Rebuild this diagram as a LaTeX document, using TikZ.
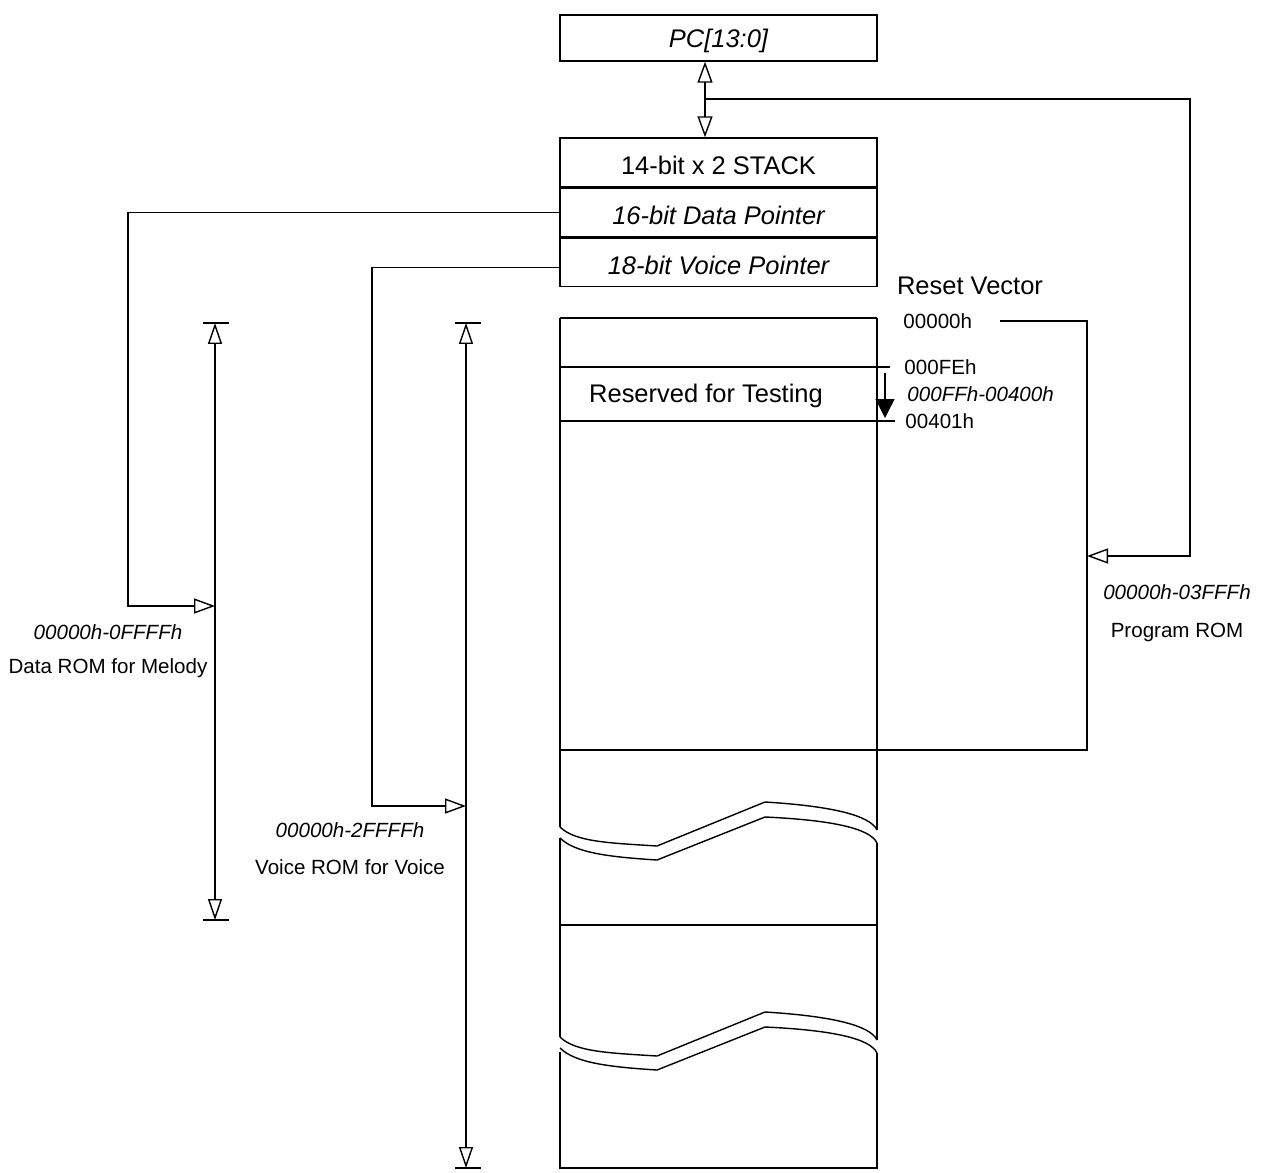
\documentclass[tikz,border=0pt]{standalone}
\usepackage{fontspec}
\setmainfont{Liberation Sans}
\usetikzlibrary{arrows.meta,positioning}

\newcommand{\bigtxt}{\fontsize{14.5}{17}\selectfont}
\newcommand{\smalltxt}{\fontsize{11.7}{14}\selectfont}

\begin{document}
\begin{tikzpicture}[x=0.02cm, y=-0.02cm, line width=0.8pt,
    regbox/.style={draw, minimum width=6.34cm, minimum height=0.973cm, inner sep=0pt, text height=0.5cm, text depth=0pt, font=\bigtxt},
    lbl/.style={font=\smalltxt, inner sep=1pt},
    openhead/.style={-{Triangle[open, length=0.42cm, width=0.3cm]}},
    dimline/.style={{Triangle[open, length=0.42cm, width=0.28cm]}-{Triangle[open, length=0.42cm, width=0.28cm]}}]
    \useasboundingbox (0,0) rectangle (1263,1172);

    % registers
    \node[regbox, minimum height=0.92cm, text height=0.37cm, font=\bigtxt\itshape] (pc) at (718.5,38) {PC[13:0]};
    \node[regbox] (stk) at (718.5,162.3) {14-bit x 2 STACK};
    \node[regbox, below=0pt of stk, font=\bigtxt\itshape] (dptr) {16-bit Data Pointer};
    \node[regbox, below=0pt of dptr, font=\bigtxt\itshape] (vptr) {18-bit Voice Pointer};

    % memory column
    \draw (560,318) -- (877,318);
    \draw (560,318) -- (560,827);
    \draw (877,318) -- (877,830);
    \draw (560,838) -- (560,1037);
    \draw (877,843) -- (877,1040);
    \draw (560,1052) -- (560,1168) -- (877,1168) -- (877,1053);
    \foreach \dy in {0,210} {
        \draw (560,827+\dy) .. controls (575,842+\dy) and (610,843+\dy) .. (657,846+\dy)
            -- (765,802+\dy) .. controls (830,806+\dy) and (870,815+\dy) .. (877,830+\dy);
        \draw (560,838+\dy) .. controls (575,853+\dy) and (610,857+\dy) .. (657,860+\dy)
            -- (765,817+\dy) .. controls (830,820+\dy) and (870,828+\dy) .. (877,843+\dy);
    }
    \draw (560,367) -- (890,367);
    \draw (560,421) -- (895,421);
    \draw (560,925) -- (877,925);
    \node[font=\bigtxt] (rsv) at (706,396) {Reserved for Testing};

    % addresses
    \node[font=\bigtxt] (rvec) at (970,286) {Reset Vector};
    \node[lbl, anchor=west] (a0) at (901,321) {00000h};
    \node[lbl, anchor=west] (afe) at (902,367) {000FEh};
    \node[lbl, anchor=west, font=\smalltxt\itshape] (arng) at (905,394) {000FFh-00400h};
    \node[lbl, anchor=west] (a401) at (903,421) {00401h};
    \draw[-{Triangle[length=0.38cm, width=0.38cm]}] (885,373) -- (885,418);

    % program rom
    \coordinate (prgtop) at (1000,321);
    \coordinate (prgin) at (1087,556);
    \draw (prgtop) -- (1087,321) -- (1087,750) -- (560,750);
    \node[lbl, font=\smalltxt\itshape] (prgrng) at (1177,592) {00000h-03FFFh};
    \node[lbl] (prgname) at (1177,632) {Program ROM};

    % pc / stack
    \draw[{Triangle[open, length=0.42cm, width=0.3cm]}-{Triangle[open, length=0.42cm, width=0.3cm]}]
        (pc.south -| 705,0) -- (stk.north -| 705,0);
    \draw[openhead] (705,99) -- (1190,99) -- (1190,556) -- (prgin);

    % data rom
    \coordinate (dtop) at (215,323);
    \coordinate (dbot) at (215,920);
    \coordinate (din) at (215,606);
    \draw[dimline] (dtop) -- (dbot);
    \draw ([xshift=-0.24cm]dtop) -- ([xshift=0.28cm]dtop);
    \draw ([xshift=-0.24cm]dbot) -- ([xshift=0.28cm]dbot);
    \draw[openhead] (dptr.west) -| (128,606) -- (din);
    \node[lbl, font=\smalltxt\itshape] (drng) at (108,632) {00000h-0FFFFh};
    \node[lbl] (dname) at (108,668) {Data ROM for Melody};

    % voice rom
    \coordinate (vtop) at (466,323);
    \coordinate (vbot) at (466,1168);
    \coordinate (vin) at (466,806);
    \draw[dimline] (vtop) -- (vbot);
    \draw ([xshift=-0.22cm]vtop) -- ([xshift=0.3cm]vtop);
    \draw ([xshift=-0.22cm]vbot) -- ([xshift=0.3cm]vbot);
    \draw[openhead] ([yshift=-0.1cm]vptr.west) -| (372,806) -- (vin);
    \node[lbl, font=\smalltxt\itshape] (vrng) at (350,830) {00000h-2FFFFh};
    \node[lbl] (vname) at (350,867) {Voice ROM for Voice};
\end{tikzpicture}
\end{document}
